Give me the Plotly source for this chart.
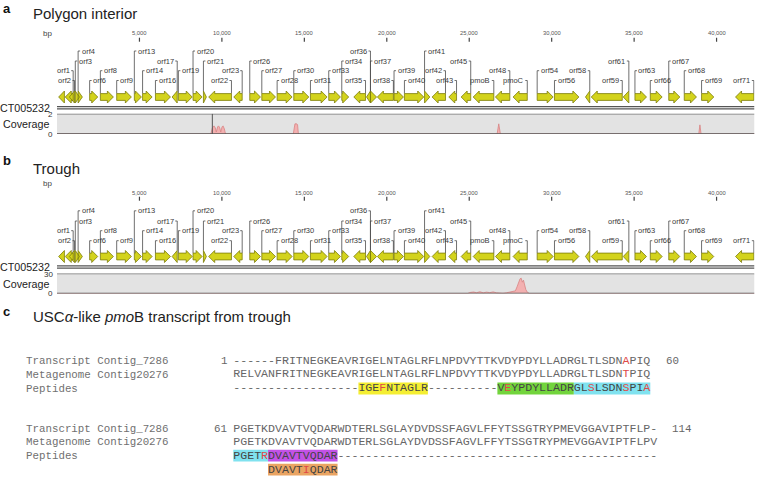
import plotly.graph_objects as go

W, H = 761, 477

# ------------------------------------------------------------------ data
gene_names = ["", "orf1", "orf2", "orf3", "orf4", "orf6", "orf8", "orf9", "orf13", "orf14",
              "orf16", "orf17", "orf19", "orf20", "orf21", "orf22", "orf23", "orf26", "orf27", "orf28",
              "orf30", "orf31", "orf33", "orf34", "orf35", "orf36", "orf37", "orf38", "orf39", "orf40",
              "orf41", "orf42", "orf43", "orf45", "pmoB", "orf48", "pmoC", "orf54", "orf56", "orf58",
              "orf59", "orf61", "orf63", "orf66", "orf67", "orf68", "orf69", "orf71"]
gene_start = [100, 500, 750, 1110, 1280, 1980, 2630, 3620, 4690, 5190,
              5970, 6980, 7360, 8250, 8880, 9200, 10720, 11690, 12420, 13350,
              14360, 15370, 16480, 17270, 18000, 18770, 19010, 19430, 20440, 21070,
              22290, 22750, 23760, 24510, 25240, 26590, 27660, 29120, 30170, 32050,
              32400, 34340, 35050, 35980, 37100, 38040, 39090, 41150]
gene_end = [450, 980, 1060, 1360, 1540, 2470, 3420, 4510, 5120, 5770,
            6880, 7290, 8200, 8800, 9060, 10580, 11230, 12340, 13250, 14260,
            15270, 16380, 17190, 17690, 18710, 19010, 19380, 20400, 21010, 22240,
            22610, 23560, 24230, 25090, 26490, 27460, 28520, 30090, 31650, 32310,
            34280, 34680, 35750, 36700, 37770, 38780, 39830, 42260]
gene_strand = [-1, -1, -1, 1, 1, 1, 1, 1, 1, 1,
               1, -1, 1, 1, 1, -1, -1, 1, 1, 1,
               1, 1, 1, 1, -1, -1, 1, -1, 1, 1,
               1, -1, -1, -1, -1, -1, -1, 1, 1, -1,
               -1, -1, 1, 1, 1, 1, 1, -1]
label_level = [0, 2, 1, 3, 4, 1, 2, 1, 4, 2,
               1, 3, 2, 4, 3, 1, 2, 3, 2, 1,
               2, 1, 2, 3, 1, 4, 3, 1, 2, 1,
               4, 2, 1, 3, 1, 2, 1, 2, 1, 2,
               1, 3, 2, 1, 3, 2, 1, 1]

genome_length = 42300
contig_name = "CT005232"
tick_vals = [5000, 10000, 15000, 20000, 25000, 30000, 35000, 40000]
tick_text = ["5,000", "10,000", "15,000", "20,000", "25,000", "30,000", "35,000", "40,000"]

# coverage, panel a (polygon interior)
cov_a_max = 2
cov_a_bp = [0, 9330, 9420, 9520, 9600, 9660, 9740, 9800, 9870, 9930, 10010, 10070, 10150, 10220,
            14330, 14380, 14430, 14540, 14590, 14640, 26690, 26790, 26890, 38920, 38990, 39060, 42300]
cov_a_val = [0, 0, 0.6, 0.8, 0.6, 0.2, 0.7, 0.8, 0.6, 0.2, 0.7, 0.8, 0.5, 0,
             0, 0.9, 1.0, 1.0, 0.9, 0, 0, 1.0, 0, 0, 0.9, 0, 0]
cov_a_spike_bp = [9420]
cov_a_spike_val = [2]

# coverage, panel b (trough)
cov_b_max = 30
cov_b_bp = [0, 24900, 25050, 25250, 25450, 25650, 25850, 26050, 26250, 26450,
            26650, 26850, 27050, 27250, 27450, 27650, 27800, 27900, 28000, 28080,
            28150, 28220, 28290, 28360, 28430, 28520, 28650, 42300]
cov_b_val = [0, 0, 1.5, 2.2, 1.2, 2.6, 1.0, 2.0, 1.3, 2.4,
             1.0, 0.5, 0.3, 1.0, 2.0, 2.5, 4.0, 10, 17, 22,
             23, 17, 20, 13, 6, 2, 0, 0]

# alignment (panel c)
row_labels = ["Transcript Contig_7286", "Metagenome Contig20276", "Peptides"]
block1_num = ("1", "60")
block2_num = ("61", "114")
block1_rows = ["------FRITNEGKEAVRIGELNTAGLRFLNPDVYTTKVDYPDYLLADRGLTLSDNAPIQ",
               "RELVANFRITNEGKEAVRIGELNTAGLRFLNPDVYTTKVDYPDYLLADRGLTLSDNTPIQ",
               "------------------IGEFNTAGLR----------VEYPDYLLADRGLSLSDNSPIA"]
block2_rows = ["PGETKDVAVTVQDARWDTERLSGLAYDVDSSFAGVLFFYTSSGTRYPMEVGGAVIPTFLP-",
               "PGETKDVAVTVQDARWDTERLSGLAYDVDSSFAGVLFFYTSSGTRYPMEVGGAVIPTFLPV",
               "PGETRDVAVTVQDAR----------------------------------------------",
               "     DVAVTIQDAR"]
# peptide hits: (block, row, peptide, colour)
peptide_hits = [(1, 2, "IGEFNTAGLR", "#f4ee32"),
                (1, 2, "VEYPDYLLADR", "#72d43c"),
                (1, 2, "GLSLSDNSPIA", "#80e2ef"),
                (2, 2, "PGETR", "#80e2ef"),
                (2, 2, "DVAVTVQDAR", "#c252e6"),
                (2, 3, "DVAVTIQDAR", "#eaa462")]

# ------------------------------------------------------------------ style / geometry
SANS = "Liberation Sans, Arial, sans-serif"
MONO = "Liberation Mono, Courier New, monospace"
X0_PX, X1_PX = 57.0, 754.5
bp_per_px = genome_length / (X1_PX - X0_PX)
HEAD_BP = 6 * bp_per_px
BODY_H, HEAD_H = 3.4, 6.0
HOOK_BP = 2 * bp_per_px
GENE_FILL, GENE_LINE = "#d3d31c", "#7c7c0c"

CHAR_PX = 6.95
SEQ_X0 = 233.3

panels = [
    dict(title_letter="a", title="Polygon interior", letter_y=8, title_y=13,
         bp_y=33.5, tick_lab_y=32.5, tick_y=(37.7, 41.7),
         arrow_y=97, levels={1: 80.5, 2: 70.7, 3: 61, 4: 51},
         line_y=107.7, box=(113.7, 134), yaxis="y2", cov_max=cov_a_max,
         cov_x=cov_a_bp, cov_y=cov_a_val, contig_y=107.5, max_y=114, cov_lab_y=123.5),
    dict(title_letter="b", title="Trough", letter_y=160, title_y=168,
         bp_y=183.5, tick_lab_y=193.3, tick_y=(196.7, 200.7),
         arrow_y=256.5, levels={1: 240.7, 2: 230.7, 3: 221, 4: 210.8},
         line_y=267, box=(273.5, 293.5), yaxis="y3", cov_max=cov_b_max,
         cov_x=cov_b_bp, cov_y=cov_b_val, contig_y=266.5, max_y=274, cov_lab_y=284),
]

fig = go.Figure()
annotations = []
shapes = []


def ann(text, xpx, y, size, color="#222", xanchor="left", yanchor="middle",
        family=SANS, xref="paper", yref="y", x=None, xshift=0):
    annotations.append(dict(
        text=text, x=(xpx / W if x is None else x), y=y, xref=xref, yref=yref,
        xanchor=xanchor, yanchor=yanchor, showarrow=False, xshift=xshift,
        font=dict(family=family, size=size, color=color), borderpad=0))


for p in panels:
    c = p["arrow_y"]
    # ---- gene arrows
    gx, gy = [], []
    lx, ly = [], []
    for name, s, e, st, lev in zip(gene_names, gene_start, gene_end, gene_strand, label_level):
        L = e - s
        h = min(HEAD_BP, L)
        if st > 0:
            pts = [(s, c - BODY_H), (e - h, c - BODY_H), (e - h, c - HEAD_H), (e, c),
                   (e - h, c + HEAD_H), (e - h, c + BODY_H), (s, c + BODY_H), (s, c - BODY_H)]
            if L <= HEAD_BP:
                pts = [(s, c - HEAD_H), (e, c), (s, c + HEAD_H), (s, c - HEAD_H)]
            x5 = s
        else:
            pts = [(e, c - BODY_H), (s + h, c - BODY_H), (s + h, c - HEAD_H), (s, c),
                   (s + h, c + HEAD_H), (s + h, c + BODY_H), (e, c + BODY_H), (e, c - BODY_H)]
            if L <= HEAD_BP:
                pts = [(e, c - HEAD_H), (s, c), (e, c + HEAD_H), (e, c - HEAD_H)]
            x5 = e
        gx += [q[0] for q in pts] + [None]
        gy += [q[1] for q in pts] + [None]
        if lev:
            top = c - (BODY_H if L > HEAD_BP else HEAD_H)
            ly_ = p["levels"][lev]
            hook = x5 + st * HOOK_BP
            lx += [x5, x5, hook, None]
            ly += [top, ly_, ly_, None]
            ann(name, 0, ly_, 7.5, color="#3a3a3a",
                xanchor="left" if st > 0 else "right", xref="x", x=x5,
                xshift=2.5 * st)
    fig.add_trace(go.Scatter(x=lx, y=ly, mode="lines", xaxis="x", yaxis="y",
                             line=dict(color="#4a4a4a", width=0.8), hoverinfo="skip"))
    fig.add_trace(go.Scatter(x=gx, y=gy, mode="lines", fill="toself", xaxis="x", yaxis="y",
                             fillcolor=GENE_FILL, line=dict(color=GENE_LINE, width=0.8),
                             hoverinfo="skip"))
    # ---- genome line (double)
    for dy in (-1.1, 1.1):
        fig.add_trace(go.Scatter(x=[0, genome_length], y=[p["line_y"] + dy] * 2, mode="lines",
                                 xaxis="x", yaxis="y", line=dict(color="#555", width=1.3),
                                 hoverinfo="skip"))
    # ---- ruler
    tx, ty = [], []
    for v in tick_vals:
        tx += [v, v, None]
        ty += [p["tick_y"][0], p["tick_y"][1], None]
    fig.add_trace(go.Scatter(x=tx, y=ty, mode="lines", xaxis="x", yaxis="y",
                             line=dict(color="#444", width=1.2), hoverinfo="skip"))
    for v, t in zip(tick_vals, tick_text):
        ann(t, 0, p["tick_lab_y"], 5.8, color="#555", xanchor="center", xref="x", x=v)
    ann("bp", 48, p["bp_y"], 8, color="#444", xanchor="center")
    # ---- titles
    ann("<b>%s</b>" % p["title_letter"], 2, p["letter_y"], 13, color="#111")
    ann(p["title"], 31.5, p["title_y"], 15, color="#222")
    # ---- coverage box
    ya = p["yaxis"]
    m = p["cov_max"]
    fig.add_trace(go.Scatter(x=[0, genome_length, genome_length, 0, 0], y=[0, 0, m, m, 0],
                             mode="lines", fill="toself", fillcolor="#e3e3e3",
                             line=dict(width=0), xaxis="x", yaxis=ya, hoverinfo="skip"))
    fig.add_trace(go.Scatter(x=p["cov_x"], y=p["cov_y"], mode="lines", fill="tozeroy",
                             fillcolor="#f3b0b0", line=dict(color="#d88484", width=0.8),
                             xaxis="x", yaxis=ya, hoverinfo="skip"))
    fig.add_trace(go.Scatter(x=[0, genome_length], y=[m, m], mode="lines", xaxis="x", yaxis=ya,
                             line=dict(color="#777", width=1.6), hoverinfo="skip"))
    fig.add_trace(go.Scatter(x=[0, genome_length], y=[0, 0], mode="lines", xaxis="x", yaxis=ya,
                             line=dict(color="#555", width=1.4), hoverinfo="skip"))
    ann(contig_name, 51, p["contig_y"], 10.7, color="#222", xanchor="right")
    ann(str(m), 54, p["max_y"], 8, color="#333", xanchor="right")
    ann("Coverage", 50, p["cov_lab_y"], 10.7, color="#222", xanchor="right")
    ann("0", 53.5, p["box"][1], 8, color="#333", xanchor="right")

# spike in panel a coverage
for sx, sv in zip(cov_a_spike_bp, cov_a_spike_val):
    fig.add_trace(go.Scatter(x=[sx, sx], y=[0, sv], mode="lines", xaxis="x", yaxis="y2",
                             line=dict(color="#555", width=1), hoverinfo="skip"))

# ------------------------------------------------------------------ panel c
ann("<b>c</b>", 2, 311, 13, color="#111")
ann("USC<i>α</i>-like <i>pmo</i>B transcript from trough", 31.5, 316.5, 15, color="#222")

blocks = [(1, block1_rows, block1_num, [361, 374.5, 388.5]),
          (2, block2_rows, block2_num, [428.7, 442, 455.7, 469.7])]
SEQ_GRAY = "#666"
for bid, rows, nums, ys in blocks:
    ref = rows[0]
    for r, lab in enumerate(row_labels):
        ann(lab, 25, ys[r], 10.8, color="#707070", family=MONO)
    ann(nums[0], 227.5, ys[0], 10.8, color="#666", family=MONO, xanchor="right")
    ann(nums[1], 665 if bid == 1 else 670.5, ys[0], 10.8, color="#666", family=MONO)
    for r, row in enumerate(rows):
        xs, ts, cs = [], [], []
        for i, ch in enumerate(row):
            if ch == " ":
                continue
            col = SEQ_GRAY
            if r <= 1:
                other = rows[1 - r]
                if ch != "-" and i < len(other) and other[i] not in "- " and other[i] != ch:
                    col = "#e04848"
            else:
                if ch != "-" and i < len(ref) and ref[i] != "-" and ref[i] != ch:
                    col = "#e04848"
                elif ch != "-":
                    col = "#444"
            xs.append(i + 0.5)
            ts.append(ch)
            cs.append(col)
        fig.add_trace(go.Scatter(x=xs, y=[ys[r]] * len(xs), text=ts, mode="text",
                                 textposition="middle center", xaxis="x2", yaxis="y4",
                                 textfont=dict(family=MONO, size=11.6, color=cs),
                                 hoverinfo="skip"))
    for hb, hr, pep, colr in peptide_hits:
        if hb != bid:
            continue
        s0 = rows[hr].find(pep)
        shapes.append(dict(type="rect", xref="x2", yref="y4", x0=s0, x1=s0 + len(pep),
                           y0=ys[hr] - 5.9, y1=ys[hr] + 5.9, fillcolor=colr,
                           line=dict(width=0), layer="below"))

fig.update_layout(
    width=W, height=H, margin=dict(l=0, r=0, t=0, b=0),
    paper_bgcolor="white", plot_bgcolor="rgba(0,0,0,0)", showlegend=False,
    xaxis=dict(domain=[X0_PX / W, X1_PX / W], range=[0, genome_length], visible=False,
               anchor="y"),
    yaxis=dict(domain=[0, 1], range=[H, 0], visible=False, anchor="x"),
    yaxis2=dict(domain=[(H - 134) / H, (H - 113.7) / H], range=[0, cov_a_max], visible=False,
                anchor="x"),
    yaxis3=dict(domain=[(H - 293.5) / H, (H - 273.5) / H], range=[0, cov_b_max],
                visible=False, anchor="x"),
    xaxis2=dict(domain=[0, 1], range=[-SEQ_X0 / CHAR_PX, (W - SEQ_X0) / CHAR_PX],
                visible=False, anchor="y4"),
    yaxis4=dict(domain=[0, 1], range=[H, 0], visible=False, anchor="x2"),
    annotations=annotations, shapes=shapes,
)

fig.write_html("out.html", config={"displayModeBar": False},
               post_script="document.body.style.margin='0';document.body.style.overflow='hidden';")
